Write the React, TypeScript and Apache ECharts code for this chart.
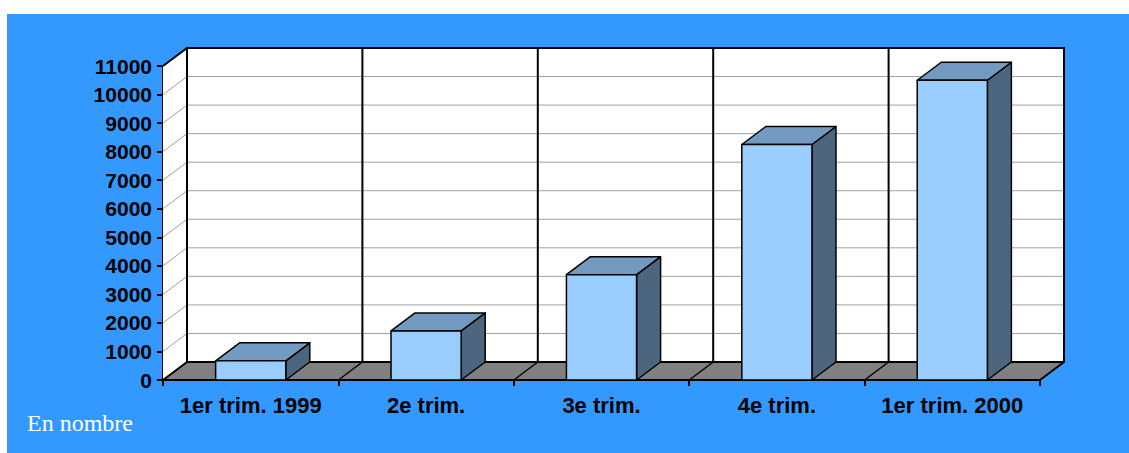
import React, { useEffect, useRef } from "react";
import * as echarts from "echarts";

const categories = ["1er trim. 1999", "2e trim.", "3e trim.", "4e trim.", "1er trim. 2000"];
const values = [670, 1720, 3690, 8250, 10500];
const yMin = 0;
const yMax = 11000;
const yStep = 1000;
const gridValues = [1000, 2000, 3000, 4000, 5000, 6000, 7000, 8000, 9000, 10000];
const unitLabel = "En nombre";

const DX = 24;
const DY = -18;
const BLACK = "#000000";

export default function App() {
  const ref = useRef<HTMLDivElement>(null);

  useEffect(() => {
    const el = ref.current;
    if (!el) return;
    const chart = echarts.init(el, null, { renderer: "svg" });

    const wallsRender = (params: any, api: any) => {
      const n = categories.length;
      const bw = api.size([1, 0])[0];
      const p0 = api.coord([0, yMin]);
      const left = p0[0] - bw / 2;
      const right = api.coord([n - 1, yMin])[0] + bw / 2;
      const y0 = p0[1];
      const yTop = api.coord([0, yMax])[1];
      const children: any[] = [];
      children.push({
        type: "rect",
        shape: { x: left + DX, y: yTop + DY, width: right - left, height: y0 - yTop },
        style: { fill: "#ffffff" },
      });
      children.push({
        type: "polygon",
        shape: { points: [[left, yTop], [left + DX, yTop + DY], [left + DX, y0 + DY], [left, y0]] },
        style: { fill: "#ffffff" },
      });
      gridValues.forEach((v) => {
        const y = api.coord([0, v])[1];
        children.push({
          type: "line",
          shape: { x1: left + DX, y1: y + DY, x2: right + DX, y2: y + DY },
          style: { stroke: "#a0a0a0", lineWidth: 1 },
        });
        children.push({
          type: "line",
          shape: { x1: left, y1: y, x2: left + DX, y2: y + DY },
          style: { stroke: "#a0a0a0", lineWidth: 1 },
        });
      });
      for (let i = 1; i < n; i++) {
        const x = left + i * bw + DX;
        children.push({
          type: "line",
          shape: { x1: x, y1: yTop + DY, x2: x, y2: y0 + DY },
          style: { stroke: BLACK, lineWidth: 2 },
        });
      }
      children.push({
        type: "polyline",
        shape: {
          points: [
            [left + DX, y0 + DY],
            [left + DX, yTop + DY],
            [right + DX, yTop + DY],
            [right + DX, y0 + DY],
          ],
        },
        style: { stroke: BLACK, lineWidth: 2, fill: "none" },
      });
      children.push({
        type: "line",
        shape: { x1: left, y1: yTop, x2: left + DX, y2: yTop + DY },
        style: { stroke: BLACK, lineWidth: 2 },
      });
      children.push({
        type: "polygon",
        shape: { points: [[left, y0], [left + DX, y0 + DY], [right + DX, y0 + DY], [right, y0]] },
        style: { fill: "#808080", stroke: BLACK, lineWidth: 2, lineJoin: "round" },
      });
      for (let i = 1; i < n; i++) {
        const x = left + i * bw;
        children.push({
          type: "line",
          shape: { x1: x, y1: y0, x2: x + DX, y2: y0 + DY },
          style: { stroke: BLACK, lineWidth: 1.5 },
        });
      }
      return { type: "group", children };
    };

    const barsRender = (params: any, api: any) => {
      const i = api.value(0);
      const v = api.value(1);
      const bw = api.size([1, 0])[0];
      const w = bw * 0.4;
      const top = api.coord([i, v]);
      const cx = top[0];
      const yv = top[1];
      const y0 = api.coord([i, yMin])[1];
      const x1 = cx - w / 2;
      const x2 = cx + w / 2;
      const st = { stroke: BLACK, lineWidth: 1.5, lineJoin: "round" };
      return {
        type: "group",
        children: [
          {
            type: "polygon",
            shape: { points: [[x2, y0], [x2, yv], [x2 + DX, yv + DY], [x2 + DX, y0 + DY]] },
            style: { fill: "#4D6680", ...st },
          },
          {
            type: "polygon",
            shape: { points: [[x1, yv], [x1 + DX, yv + DY], [x2 + DX, yv + DY], [x2, yv]] },
            style: { fill: "#739AC0", ...st },
          },
          {
            type: "rect",
            shape: { x: x1, y: yv, width: w, height: y0 - yv },
            style: { fill: "#99CCFF", ...st },
          },
        ],
      };
    };

    const labelFont = {
      color: BLACK,
      fontWeight: "bold" as const,
      fontFamily: "'Liberation Sans', Arial, sans-serif",
    };

    chart.setOption({
      animation: false,
      backgroundColor: "#3399FF",
      grid: { left: 156, right: 89, top: 52, bottom: 73 },
      xAxis: {
        type: "category",
        data: categories,
        boundaryGap: true,
        axisLine: { show: true, lineStyle: { color: BLACK, width: 2 } },
        axisTick: { show: true, length: 6, inside: false, lineStyle: { color: BLACK, width: 2 } },
        axisLabel: { ...labelFont, fontSize: 22, margin: 14, interval: 0 },
        splitLine: { show: false },
      },
      yAxis: {
        type: "value",
        min: yMin,
        max: yMax,
        interval: yStep,
        axisLine: { show: true, lineStyle: { color: BLACK, width: 2 } },
        axisTick: { show: true, length: 6, inside: false, lineStyle: { color: BLACK, width: 2 } },
        axisLabel: { ...labelFont, fontSize: 21, margin: 11, formatter: (v: number) => String(v) },
        splitLine: { show: false },
      },
      graphic: [
        {
          type: "text",
          x: 20,
          y: 408.5,
          style: {
            text: unitLabel,
            fill: "#ffffff",
            font: "24px 'Liberation Serif', 'Times New Roman', serif",
            verticalAlign: "middle",
          },
        },
      ],
      series: [
        {
          type: "custom",
          name: "walls",
          renderItem: wallsRender,
          data: [[0, 0]],
          encode: { x: 0, y: 1 },
          z: 1,
          silent: true,
        },
        {
          type: "custom",
          name: "bars",
          renderItem: barsRender,
          data: values.map((v, i) => [i, v]),
          encode: { x: 0, y: 1 },
          z: 3,
        },
      ],
    });

    return () => chart.dispose();
  }, []);

  return (
    <div style={{ position: "fixed", left: 0, top: 0, width: 1129, height: 453, background: "#ffffff" }}>
      <div ref={ref} style={{ position: "absolute", left: 7, top: 14, width: 1122, height: 439 }} />
    </div>
  );
}
